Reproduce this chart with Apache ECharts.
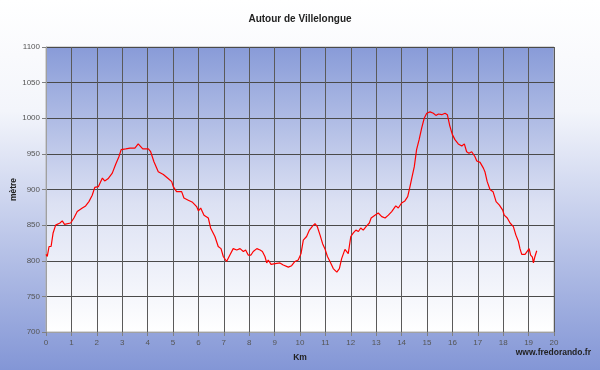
<!DOCTYPE html>
<html><head><meta charset="utf-8">
<script src="https://cdn.jsdelivr.net/npm/echarts@6/dist/echarts.min.js"></script>
<style>html,body{margin:0;padding:0;background:#fff}#c{width:600px;height:370px}</style>
</head><body><div id="c"></div>
<script>
var title = 'Autour de Villelongue';
var xName = 'Km';
var yName = 'mètre';
var credit = 'www.fredorando.fr';
var km = [0,0.05,0.12,0.2,0.28,0.38,0.55,0.64,0.73,0.97,
1.1,1.23,1.43,1.56,1.69,1.82,1.92,2.06,2.22,2.31,
2.44,2.61,2.74,2.87,2.96,3.14,3.31,3.5,3.63,3.68,
3.81,4.03,4.12,4.25,4.42,4.62,4.82,4.95,5.01,5.14,
5.34,5.43,5.6,5.77,5.93,6.0,6.09,6.22,6.39,6.48,
6.65,6.78,6.89,6.98,7.11,7.24,7.37,7.51,7.64,7.77,
7.86,7.96,8.07,8.16,8.3,8.43,8.52,8.62,8.69,8.75,
8.86,9.02,9.21,9.34,9.54,9.67,9.8,9.93,10.04,10.13,
10.26,10.37,10.5,10.59,10.68,10.79,10.89,10.98,11.08,11.18,
11.31,11.45,11.55,11.64,11.77,11.9,12.0,12.1,12.2,12.3,
12.39,12.49,12.6,12.73,12.8,12.95,13.08,13.22,13.35,13.48,
13.61,13.77,13.87,14.0,14.13,14.24,14.33,14.42,14.5,14.59,
14.69,14.79,14.89,14.99,15.12,15.25,15.35,15.45,15.58,15.71,
15.8,15.9,16.0,16.1,16.23,16.37,16.47,16.56,16.65,16.76,
16.89,16.96,17.09,17.22,17.28,17.37,17.48,17.6,17.72,17.85,
17.98,18.04,18.16,18.27,18.4,18.5,18.6,18.66,18.73,18.86,
18.93,19.02,19.08,19.15,19.19,19.25,19.32];
var elev = [809,806,820,820,839,850,853,856,851,853,
860,869,874,877,883,892,903,904,916,912,
915,923,935,946,956,957,958,958,964,963,
957,957,953,939,925,921,915,911,904,897,
897,888,885,882,876,870,874,864,860,846,
834,820,817,806,799,808,817,815,817,813,
815,808,808,813,817,815,813,806,797,801,
795,796,797,794,791,793,799,801,810,829,
834,843,849,852,848,836,824,817,806,799,
789,784,789,803,816,810,834,839,843,841,
846,843,848,853,860,864,867,862,860,864,
869,877,874,881,884,890,904,919,932,956,
970,986,1000,1007,1009,1007,1004,1006,1005,1007,
1005,989,977,970,964,961,964,953,951,953,
946,940,938,930,925,911,900,897,883,878,
871,864,860,853,848,836,827,817,809,809,
811,817,808,805,797,806,814];

var data = km.map(function(k,i){return [k, elev[i]];});
var chart = echarts.init(document.getElementById('c'), null, {renderer:'canvas'});
var FF = "'Liberation Sans', Arial, sans-serif";
chart.setOption({
  animation:false,
  backgroundColor: new echarts.graphic.LinearGradient(0,0,0,1,[
    {offset:0,color:'#ffffff'},{offset:0.3,color:'#f3f5fb'},{offset:1,color:'#8396d6'}]),
  title:{text:title,left:'center',top:9,textStyle:{fontFamily:FF,fontSize:10,fontWeight:'bold',color:'#222'}},
  graphic:[{type:'text',right:9,top:348,style:{text:credit,font:"bold 8.5px 'Liberation Sans', Arial, sans-serif",fill:'#222'}}],
  grid:{left:46,right:46,top:47,bottom:38,containLabel:false,outerBoundsMode:'none',show:true,borderColor:'#b0b0b0',borderWidth:1,
    backgroundColor:new echarts.graphic.LinearGradient(0,0,0,1,[
      {offset:0,color:'#889bd8'},{offset:0.55,color:'#dce1f3'},{offset:1,color:'#ffffff'}])},
  xAxis:{type:'value',min:0,max:20,interval:1,name:xName,nameLocation:'middle',nameGap:21,nameMoveOverlap:false,
    nameTextStyle:{fontFamily:FF,fontSize:8.5,fontWeight:'bold',color:'#222'},
    axisLine:{show:true,lineStyle:{color:'#a0a0a0'}},
    axisTick:{show:true,length:4,lineStyle:{color:'#808080'}},
    axisLabel:{fontFamily:FF,fontSize:8,color:'#555',margin:7,formatter:function(v){return String(v);}},
    splitLine:{show:true,lineStyle:{color:'#5a5a5a',width:1}}},
  yAxis:{type:'value',min:700,max:1100,interval:50,name:yName,nameLocation:'middle',nameGap:28,nameMoveOverlap:false,
    nameTextStyle:{fontFamily:FF,fontSize:8.5,fontWeight:'bold',color:'#222'},
    axisLine:{show:true,lineStyle:{color:'#a0a0a0'}},
    axisTick:{show:true,length:4,lineStyle:{color:'#808080'}},
    axisLabel:{fontFamily:FF,fontSize:8,color:'#555',margin:6,formatter:function(v){return String(v);}},
    splitLine:{show:true,lineStyle:{color:'#4a4a4a',width:1}}},
  series:[{type:'line',data:data,symbol:'none',smooth:false,
    lineStyle:{color:'#ff0000',width:1.2}}]
});
</script></body></html>
